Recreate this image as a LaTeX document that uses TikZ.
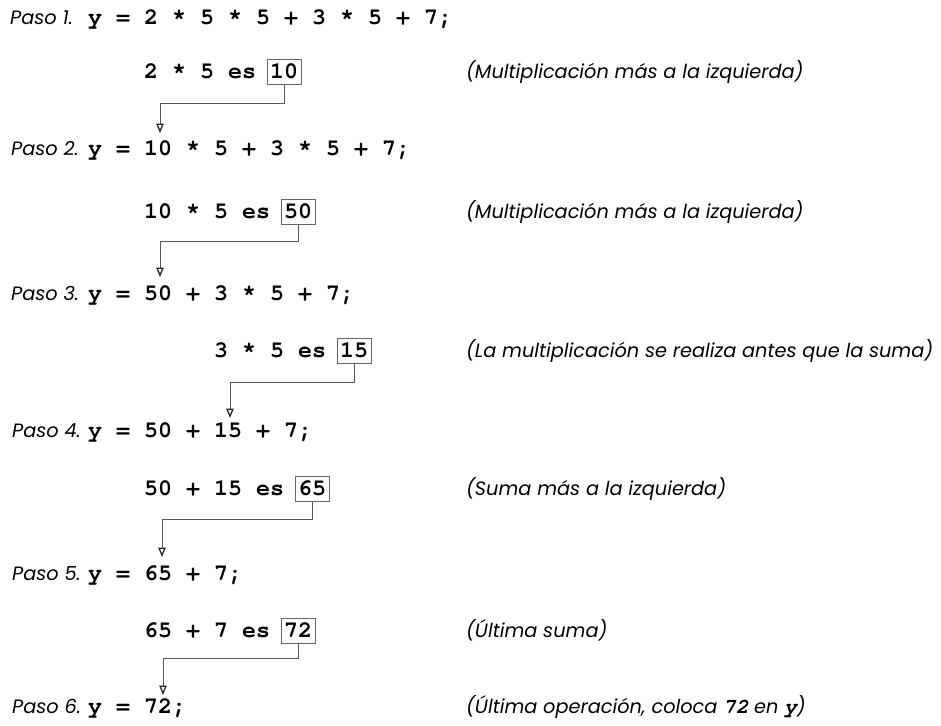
\documentclass[tikz,border=0pt]{standalone}
\usepackage{fontspec}
\usetikzlibrary{arrows.meta}
\newfontfamily\codefont{TeX Gyre Cursor}
\newfontfamily\cmtfont{Poppins}
\tikzset{
  code/.style={anchor=base west, inner sep=0pt, font=\codefont\bfseries\fontsize{23.33}{28}\selectfont},
  paso/.style={anchor=base west, inner sep=0pt, font=\cmtfont\itshape\fontsize{19.3}{23}\selectfont},
  cmt/.style={paso},
  resbox/.style={code, anchor=base, draw=gray!80!black, line width=0.8pt, inner xsep=3pt, inner ysep=0pt, text height=18.5pt, text depth=6.5pt},
  conn/.style={draw=gray!70!black, line width=0.8pt, -{Triangle[open, width=7.5pt, length=9.5pt, line width=1.3pt, color=black!85]}},
}
\newcommand{\cm}[1]{{\codefont\bfseries\fontsize{21}{23}\selectfont #1}}
\begin{document}
\begin{tikzpicture}[x=1pt, y=-1pt]
\useasboundingbox[fill=white] (0,0) rectangle (941,725);

% Step lines
\node[paso] (p1) at (10,25) {Paso 1.};
\node[code] (e1) at (88,25) {y = 2 * 5 * 5 + 3 * 5 + 7;};
\node[paso] (p2) at (11,155) {Paso 2.};
\node[code] (e2) at (88,155) {y = 10 * 5 + 3 * 5 + 7;};
\node[paso] (p3) at (11,300) {Paso 3.};
\node[code] (e3) at (88,300) {y = 50 + 3 * 5 + 7;};
\node[paso] (p4) at (12,437) {Paso 4.};
\node[code] (e4) at (88,437) {y = 50 + 15 + 7;};
\node[paso] (p5) at (12,580) {Paso 5.};
\node[code] (e5) at (88,580) {y = 65 + 7;};
\node[paso] (p6) at (12,713) {Paso 6.};
\node[code] (e6) at (88,713) {y = 72;};

% Partial operations
\node[code] (s1) at (144,78) {2 * 5 es};
\node[resbox] (b1) at (284,78) {10};
\node[code] (s2) at (144,218) {10 * 5 es};
\node[resbox] (b2) at (298,218) {50};
\node[code] (s3) at (214,357) {3 * 5 es};
\node[resbox] (b3) at (354,357) {15};
\node[code] (s4) at (144,495) {50 + 15 es};
\node[resbox] (b4) at (312,495) {65};
\node[code] (s5) at (144,637) {65 + 7 es};
\node[resbox] (b5) at (298,637) {72};

% Comments
\node[cmt] (c1) at (466,78) {(Multiplicación más a la izquierda)};
\node[cmt] (c2) at (466,218) {(Multiplicación más a la izquierda)};
\node[cmt] (c3) at (466,357) {(La multiplicación se realiza antes que la suma)};
\node[cmt] (c4) at (466,495) {(Suma más a la izquierda)};
\node[cmt] (c5) at (466,637) {(Última suma)};
\node[cmt] (c6) at (466,713) {(Última operación, coloca \cm{72} en \cm{y})};

% Connector bends and tips
\coordinate (k1) at (160,103);  \coordinate (t1) at (160,133);
\coordinate (k2) at (160,241);  \coordinate (t2) at (160,277);
\coordinate (k3) at (230,382);  \coordinate (t3) at (230,418);
\coordinate (k4) at (162,519);  \coordinate (t4) at (162,557);
\coordinate (k5) at (163,658);  \coordinate (t5) at (163,695);

\draw[conn] (b1.south) |- (k1) -- (t1);
\draw[conn] (b2.south) |- (k2) -- (t2);
\draw[conn] (b3.south) |- (k3) -- (t3);
\draw[conn] (b4.south) |- (k4) -- (t4);
\draw[conn] (b5.south) |- (k5) -- (t5);
\end{tikzpicture}
\end{document}
